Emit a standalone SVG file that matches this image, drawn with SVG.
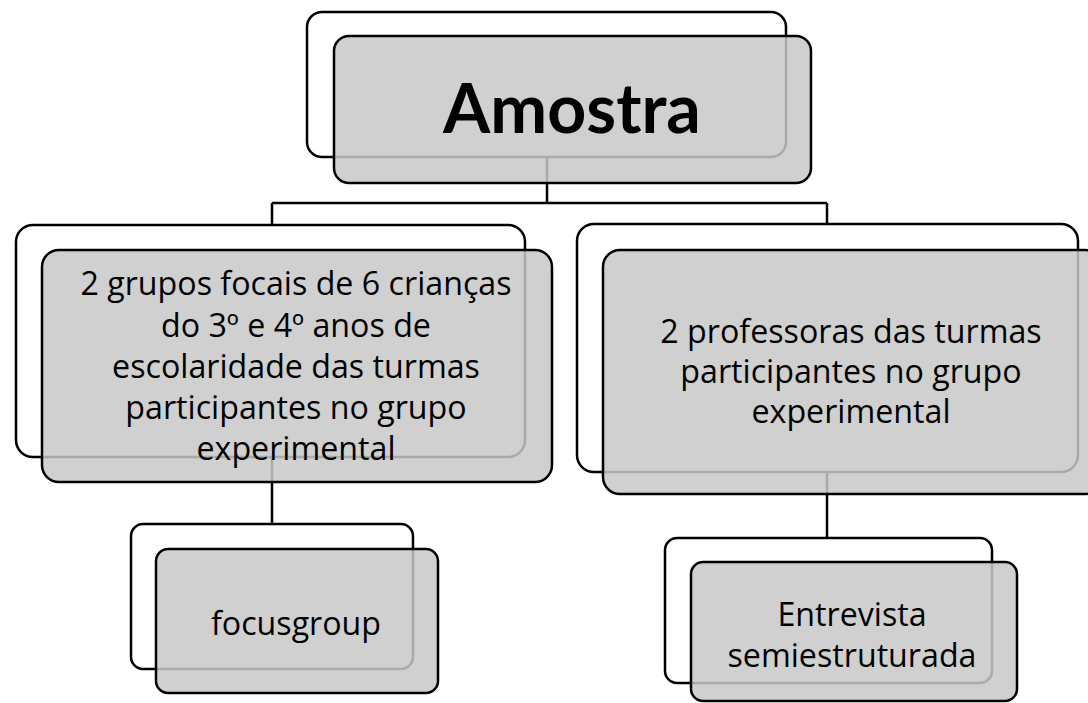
<svg xmlns="http://www.w3.org/2000/svg" width="1088" height="703" viewBox="0 0 1088 703">
<style>
.back{fill:#ffffff;stroke:#000;stroke-width:2.5}
.front{fill:#c8c8c8;fill-opacity:0.85;stroke:#000;stroke-width:2.5}
.conn{fill:none;stroke:#000;stroke-width:2.5}
.t{font-family:"Open Sans","Liberation Sans",sans-serif;font-size:32.2px;fill:#000;text-anchor:middle}
.title{font-family:Lato,"Liberation Sans",sans-serif;font-size:68px;font-weight:bold;fill:#000;text-anchor:middle}
</style>
<rect width="1088" height="703" fill="#fff"/>
<g id="backs">
<rect class="back" x="307" y="12" width="479" height="145" rx="15"/>
<rect class="back" x="16" y="225" width="509" height="232" rx="17"/>
<rect class="back" x="577" y="224" width="501" height="248" rx="17"/>
<rect class="back" x="131" y="524" width="282" height="145" rx="12"/>
<rect class="back" x="665" y="538" width="327" height="145" rx="12"/>
</g>
<g id="connectors">
<path class="conn" d="M547 157V203M272 203H827M272 203V225M827 203V224"/>
<path class="conn" d="M272 457V524"/>
<path class="conn" d="M827 472V538"/>
</g>
<g id="node-amostra">
<rect class="front" x="334" y="36" width="477" height="147" rx="15"/>
<text class="title" x="572" y="133">Amostra</text>
</g>
<g id="node-grupos">
<rect class="front" x="42" y="250" width="510" height="232" rx="17"/>
<text class="t" x="296" y="295">2 grupos focais de 6 crianças</text>
<text class="t" x="296" y="337">do 3º e 4º anos de</text>
<text class="t" x="296" y="378">escolaridade das turmas</text>
<text class="t" x="296" y="419">participantes no grupo</text>
<text class="t" x="296" y="460">experimental</text>
</g>
<g id="node-professoras">
<rect class="front" x="603" y="250" width="499" height="244" rx="17"/>
<text class="t" x="851" y="343">2 professoras das turmas</text>
<text class="t" x="851" y="383">participantes no grupo</text>
<text class="t" x="851" y="423">experimental</text>
</g>
<g id="node-focusgroup">
<rect class="front" x="156" y="549" width="282" height="144" rx="12"/>
<text class="t" x="296" y="635">focusgroup</text>
</g>
<g id="node-entrevista">
<rect class="front" x="691" y="562" width="326" height="139" rx="12"/>
<text class="t" x="852" y="626">Entrevista</text>
<text class="t" x="852" y="667">semiestruturada</text>
</g>
</svg>
